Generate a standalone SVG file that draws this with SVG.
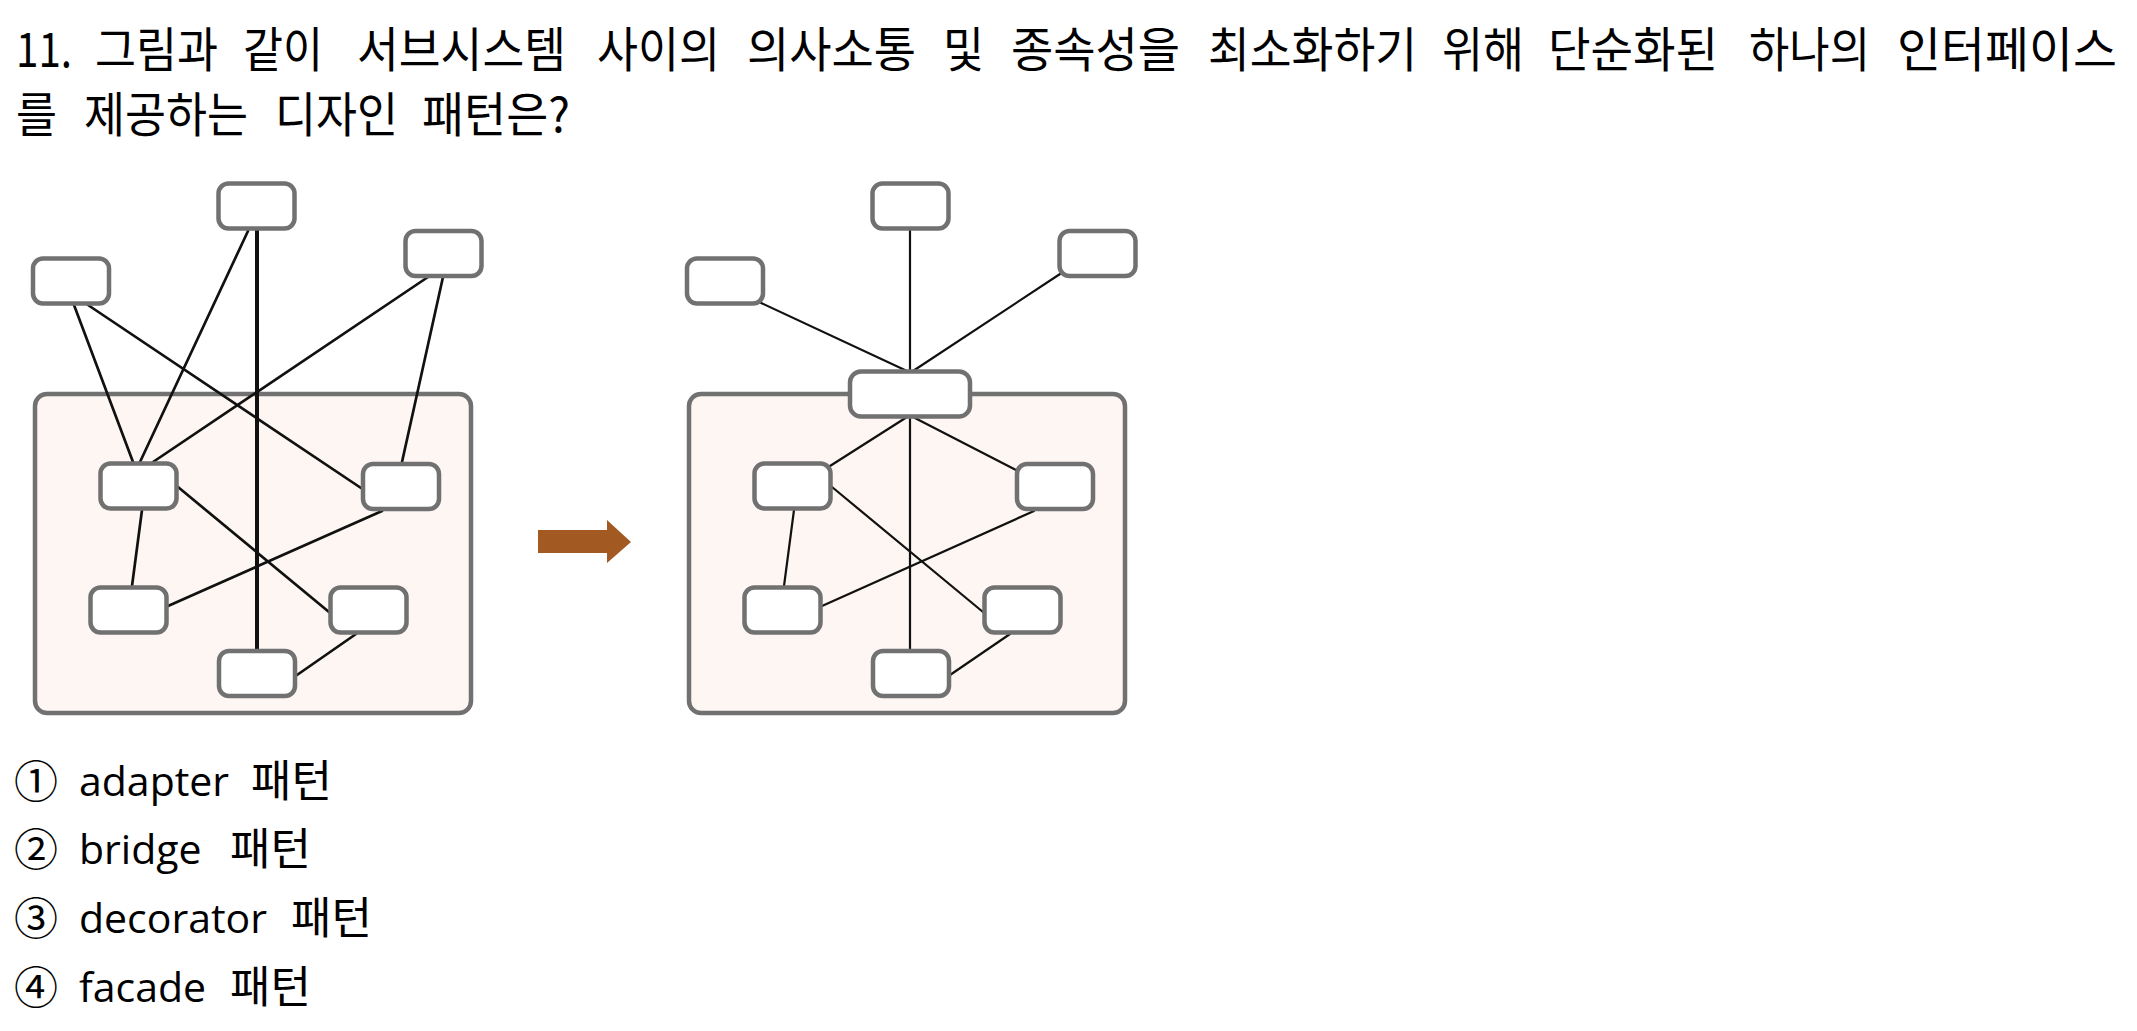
<svg xmlns="http://www.w3.org/2000/svg" width="2137" height="1031" viewBox="0 0 2137 1031">
<style>
.bg{fill:#ffffff}
.box{fill:#fdf6f3;stroke:#717171;stroke-width:4.5}
.node{fill:#ffffff;stroke:#717171;stroke-width:4.5}
.l{stroke:#111111;stroke-width:2.7;fill:none;stroke-linecap:round}
.r{stroke:#111111;stroke-width:2.2;fill:none;stroke-linecap:round}
.t{font-family:"Malgun Gothic","Noto Sans CJK KR",sans-serif;font-size:48px;fill:#000}
.o{font-family:"Open Sans","Noto Sans CJK KR",sans-serif;font-size:41px;fill:#000}
.k{font-family:"Noto Sans CJK KR",sans-serif;font-size:44px;fill:#000}
.c{font-family:"Noto Sans CJK KR",sans-serif;font-size:44px;fill:#000}
</style>
<defs>
<rect id="n" x="-38" y="-22.5" width="76" height="45" rx="10" class="node"/>
</defs>
<rect class="bg" x="0" y="0" width="2137" height="1031"/>

<g id="question">
<text class="t" y="67" x="16" textLength="56" lengthAdjust="spacingAndGlyphs">11.</text>
<text class="t" y="67" x="95" textLength="123" lengthAdjust="spacingAndGlyphs">그림과</text>
<text class="t" y="67" x="243" textLength="80" lengthAdjust="spacingAndGlyphs">같이</text>
<text class="t" y="67" x="357" textLength="209" lengthAdjust="spacingAndGlyphs">서브시스템</text>
<text class="t" y="67" x="597" textLength="123" lengthAdjust="spacingAndGlyphs">사이의</text>
<text class="t" y="67" x="747" textLength="169" lengthAdjust="spacingAndGlyphs">의사소통</text>
<text class="t" y="67" x="943" textLength="41" lengthAdjust="spacingAndGlyphs">및</text>
<text class="t" y="67" x="1011" textLength="169" lengthAdjust="spacingAndGlyphs">종속성을</text>
<text class="t" y="67" x="1208" textLength="209" lengthAdjust="spacingAndGlyphs">최소화하기</text>
<text class="t" y="67" x="1442" textLength="82" lengthAdjust="spacingAndGlyphs">위해</text>
<text class="t" y="67" x="1548" textLength="170" lengthAdjust="spacingAndGlyphs">단순화된</text>
<text class="t" y="67" x="1749" textLength="121" lengthAdjust="spacingAndGlyphs">하나의</text>
<text class="t" y="67" x="1897" textLength="220" lengthAdjust="spacingAndGlyphs">인터페이스</text>
<text class="t" y="132" x="16" textLength="41" lengthAdjust="spacingAndGlyphs">를</text>
<text class="t" y="132" x="84" textLength="164" lengthAdjust="spacingAndGlyphs">제공하는</text>
<text class="t" y="132" x="275" textLength="123" lengthAdjust="spacingAndGlyphs">디자인</text>
<text class="t" y="132" x="422" textLength="148" lengthAdjust="spacingAndGlyphs">패턴은?</text>
</g>

<g id="containers">
<rect id="subsystem-left" class="box" x="35" y="394" width="436" height="319" rx="12"/>
<rect id="subsystem-right" class="box" x="689" y="394" width="436" height="319" rx="12"/>
</g>

<g id="connectors">
<line class="l" x1="257" y1="230" x2="257" y2="649" style="stroke-width:4"/>
<line class="l" x1="248" y1="231" x2="140" y2="462"/>
<line class="l" x1="74" y1="305" x2="133" y2="462"/>
<line class="l" x1="88" y1="305" x2="361" y2="488"/>
<line class="l" x1="428" y1="277" x2="153" y2="462"/>
<line class="l" x1="443" y1="277" x2="402" y2="462"/>
<line class="l" x1="142" y1="510" x2="132" y2="586"/>
<line class="l" x1="178" y1="487" x2="329" y2="612"/>
<line class="l" x1="382" y1="511" x2="168" y2="606"/>
<line class="l" x1="356" y1="634" x2="297" y2="675"/>

<line class="r" x1="910" y1="230" x2="910" y2="649"/>
<line class="r" x1="759" y1="302" x2="907" y2="371"/>
<line class="r" x1="1060" y1="274" x2="913" y2="371"/>
<line class="r" x1="907" y1="417" x2="830" y2="466"/>
<line class="r" x1="913" y1="417" x2="1016" y2="470"/>
<line class="r" x1="794" y1="510" x2="784" y2="586"/>
<line class="r" x1="832" y1="487" x2="983" y2="612"/>
<line class="r" x1="1034" y1="511" x2="822" y2="606"/>
<line class="r" x1="1010" y1="634" x2="950" y2="675"/>
</g>

<g id="left-top-center"><use href="#n" x="256.5" y="206"/></g>
<g id="left-top-left"><use href="#n" x="71" y="281"/></g>
<g id="left-top-right"><use href="#n" x="443.5" y="253.5"/></g>
<g id="left-a"><use href="#n" x="138.5" y="486"/></g>
<g id="left-b"><use href="#n" x="401" y="486.5"/></g>
<g id="left-c"><use href="#n" x="128.5" y="610"/></g>
<g id="left-d"><use href="#n" x="368.5" y="610"/></g>
<g id="left-e"><use href="#n" x="257" y="673.5"/></g>

<g id="right-top-center"><use href="#n" x="910.5" y="206"/></g>
<g id="right-top-left"><use href="#n" x="725" y="281"/></g>
<g id="right-top-right"><use href="#n" x="1097.5" y="253.5"/></g>
<g id="right-facade"><rect class="node" x="850" y="371.5" width="120" height="45" rx="11"/></g>
<g id="right-a"><use href="#n" x="792.5" y="486"/></g>
<g id="right-b"><use href="#n" x="1055" y="486.5"/></g>
<g id="right-c"><use href="#n" x="782.5" y="610"/></g>
<g id="right-d"><use href="#n" x="1022.5" y="610"/></g>
<g id="right-e"><use href="#n" x="911" y="673.5"/></g>

<g id="arrow"><polygon points="538,530 607,530 607,520 631,542 607,563 607,553 538,553" fill="#a35a22"/></g>

<g id="options">
<text class="c" x="14" y="798">①</text>
<text class="o" x="79" y="796">adapter</text>
<text class="k" x="251" y="797">패턴</text>
<text class="c" x="14" y="866">②</text>
<text class="o" x="79" y="864">bridge</text>
<text class="k" x="230" y="865">패턴</text>
<text class="c" x="14" y="935">③</text>
<text class="o" x="79" y="933">decorator</text>
<text class="k" x="291" y="934">패턴</text>
<text class="c" x="14" y="1004">④</text>
<text class="o" x="79" y="1002">facade</text>
<text class="k" x="230" y="1003">패턴</text>
</g>
</svg>
